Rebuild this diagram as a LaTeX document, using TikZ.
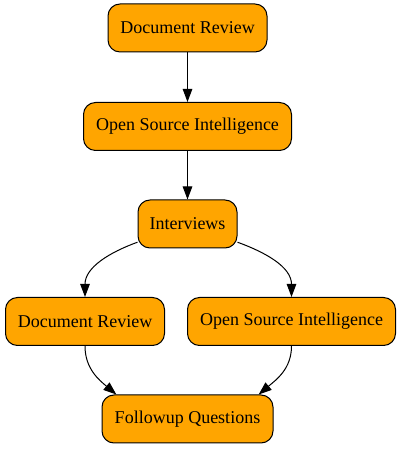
\documentclass[tikz,border=0pt]{standalone}
\usepackage{fontspec}
\setmainfont{Liberation Serif}
\usepackage{tikz}
\usetikzlibrary{arrows.meta}

\definecolor{boxorange}{RGB}{255,165,0}

\tikzset{
  taskbox/.style={draw=black, fill=boxorange, line width=1pt, rounded corners=12pt,
    minimum height=48pt, inner sep=0pt, font=\fontsize{18}{21}\selectfont},
  flow/.style={draw=black, line width=1pt, -{Triangle[length=13pt,width=9.5pt]}}
}

\begin{document}
\begin{tikzpicture}[x=1pt,y=1pt]
\useasboundingbox (0,0) rectangle (400,449);

% Nodes
\node (docrev) [taskbox, minimum width=159pt] at (187.5,421) {Document Review};
\node (osint) [taskbox, minimum width=208pt] at (187.5,322.5) {Open Source Intelligence};
\node (interviews) [taskbox, minimum width=99pt] at (187.5,225) {Interviews};
\node (docrevb) [taskbox, minimum width=159pt] at (85,127.5) {Document Review};
\node (osintb) [taskbox, minimum width=208pt] at (291.5,127.5) {Open Source Intelligence};
\node (followup) [taskbox, minimum width=171pt] at (187.5,30) {Followup Questions};

% Edges
\draw [flow] (docrev) -- (osint);
\draw [flow] (osint) -- (interviews);
\draw [flow] (interviews.200) to[out=200, in=90] (docrevb.north);
\draw [flow] (interviews.340) to[out=-20, in=90] (osintb.north);
\draw [flow] (docrevb.south) to[out=-90, in=140] (followup.161);
\draw [flow] (osintb.south) to[out=-90, in=40] (followup.19);

\end{tikzpicture}
\end{document}
